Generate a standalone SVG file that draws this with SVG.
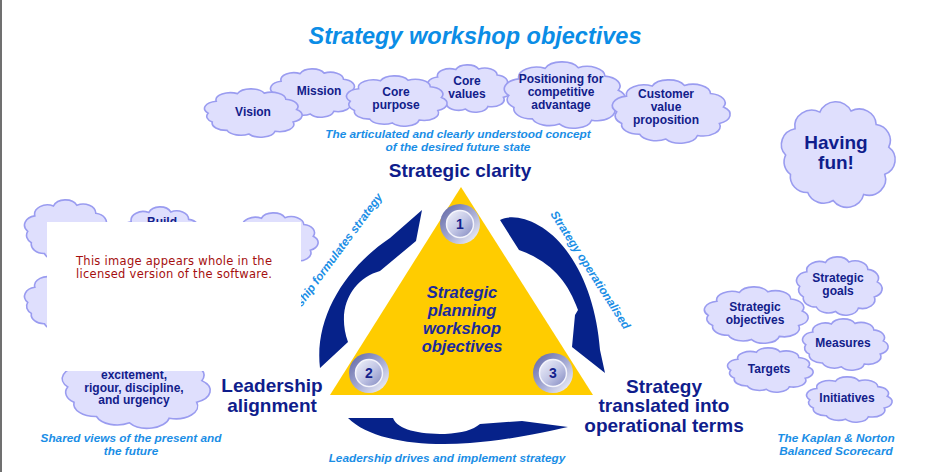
<svg xmlns="http://www.w3.org/2000/svg" width="928" height="472" viewBox="0 0 928 472">
<defs>
<style>
.cl{fill:#dfdffd;stroke:#9a9cf0;stroke-width:1.6}
.ct{font-family:"Liberation Sans",Arial,sans-serif;font-weight:bold;font-size:12px;fill:#12208a;text-anchor:middle}
.cap{font-family:"Liberation Sans",Arial,sans-serif;font-weight:bold;font-style:italic;font-size:11.8px;fill:#1a8ee6;text-anchor:middle}
.hd{font-family:"Liberation Sans",Arial,sans-serif;font-weight:bold;font-size:19px;fill:#0f1d8c;text-anchor:middle}
.tri{font-family:"Liberation Sans",Arial,sans-serif;font-weight:bold;font-style:italic;font-size:16.5px;fill:#1b2a9c;text-anchor:middle}
.arr{fill:#06228a}
.num{font-family:"Liberation Sans",Arial,sans-serif;font-weight:bold;font-size:14px;fill:#14228c;text-anchor:middle}
.lic{font-family:"DejaVu Sans",Verdana,sans-serif;font-size:11.5px;fill:#a50f0f;text-anchor:middle}
</style>
<path id="cloud" vector-effect="non-scaling-stroke" d="M7,50 A14,14 0 0 1 14.8,27 A14,14 0 0 1 35.3,12.4 A14,14 0 0 1 61.1,11.4 A14,14 0 0 1 81.9,23.2 A14,14 0 0 1 92.3,43 A14,14 0 0 1 89,66.9 A14,14 0 0 1 71.5,84.6 A14,14 0 0 1 46.3,89.8 A14,14 0 0 1 25.3,82.8 A14,14 0 0 1 11,66.9 A14,14 0 0 1 7,50 Z"/>
<linearGradient id="gRing" x1="0" y1="0" x2="1" y2="1">
<stop offset="0" stop-color="#5c62a2"/><stop offset="0.55" stop-color="#a9aed6"/><stop offset="1" stop-color="#ffffff"/>
</linearGradient>
<linearGradient id="gIn" x1="0" y1="0" x2="1" y2="1">
<stop offset="0" stop-color="#f2f3fb"/><stop offset="0.5" stop-color="#c4c8e6"/><stop offset="1" stop-color="#7f86bf"/>
</linearGradient>
</defs>
<rect width="928" height="472" fill="#fff"/>
<line x1="1" y1="0" x2="1" y2="472" stroke="#707070" stroke-width="2"/>

<text x="475" y="44" font-family="Liberation Sans, Arial, sans-serif" font-weight="bold" font-style="italic" font-size="23.5" fill="#0b8de6" text-anchor="middle">Strategy workshop objectives</text>

<!-- top clouds -->
<g id="mission"><use href="#cloud" class="cl" transform="translate(267.28,67.17) scale(0.9305,0.5217)"/><text class="ct" x="319" y="95">Mission</text></g>
<g id="vision"><use href="#cloud" class="cl" transform="translate(200.85,87.17) scale(1.0374,0.5217)"/><text class="ct" x="253" y="116">Vision</text></g>
<g id="core-values"><use href="#cloud" class="cl" transform="translate(424.45,63.21) scale(0.8877,0.5109)"/><text class="ct" x="467" y="85">Core</text><text class="ct" x="467" y="98">values</text></g>
<g id="core-purpose"><use href="#cloud" class="cl" transform="translate(342.72,74.1) scale(1.0695,0.5435)"/><text class="ct" x="396" y="96">Core</text><text class="ct" x="396" y="109">purpose</text></g>
<g id="positioning"><use href="#cloud" class="cl" transform="translate(499.87,59.49) scale(1.2834,0.7174)"/><text class="ct" x="561" y="83">Positioning for</text><text class="ct" x="561" y="96">competitive</text><text class="ct" x="561" y="109">advantage</text></g>
<g id="customer"><use href="#cloud" class="cl" transform="translate(608,77.6) scale(1.2513,0.6848)"/><text class="ct" x="666" y="98">Customer</text><text class="ct" x="666" y="111">value</text><text class="ct" x="666" y="124">proposition</text></g>
<g id="top-caption"><text class="cap" x="458" y="138">The articulated and clearly understood concept</text><text class="cap" x="458" y="151">of the desired future state</text></g>

<!-- having fun -->
<g id="having-fun"><use href="#cloud" class="cl" transform="translate(777.17,98.01) scale(1.2086,1.1413)"/><text class="hd" x="836" y="149">Having</text><text class="hd" x="836" y="169">fun!</text></g>

<!-- right clouds -->
<g id="strategic-goals"><use href="#cloud" class="cl" transform="translate(793.36,254.79) scale(0.9091,0.6304)"/><text class="ct" x="838" y="282">Strategic</text><text class="ct" x="838" y="295">goals</text></g>
<g id="strategic-objectives"><use href="#cloud" class="cl" transform="translate(700.59,284.87) scale(1.1016,0.6087)"/><text class="ct" x="755" y="311">Strategic</text><text class="ct" x="755" y="324">objectives</text></g>
<g id="measures"><use href="#cloud" class="cl" transform="translate(799.36,317.06) scale(0.9091,0.5543)"/><text class="ct" x="843" y="347">Measures</text></g>
<g id="targets"><use href="#cloud" class="cl" transform="translate(724.36,346.33) scale(0.9091,0.4783)"/><text class="ct" x="769" y="373">Targets</text></g>
<g id="initiatives"><use href="#cloud" class="cl" transform="translate(803.36,375.29) scale(0.9091,0.4891)"/><text class="ct" x="847" y="402">Initiatives</text></g>
<g id="right-caption"><text class="cap" x="836" y="442">The Kaplan &amp; Norton</text><text class="cap" x="836" y="455">Balanced Scorecard</text></g>

<!-- left clouds -->
<g id="left-a"><use href="#cloud" class="cl" transform="translate(21.36,197.64) scale(0.9091,0.6739)"/></g>
<g id="left-b"><use href="#cloud" class="cl" transform="translate(118.58,204.79) scale(0.8556,0.6304)"/><text class="ct" x="162" y="226">Build</text></g>
<g id="left-c"><use href="#cloud" class="cl" transform="translate(229.36,210.95) scale(0.9091,0.587)"/></g>
<g id="left-d"><use href="#cloud" class="cl" transform="translate(21.36,269.72) scale(0.9091,0.6522)"/></g>
<g id="excitement"><use href="#cloud" class="cl" transform="translate(56.71,341.84) scale(1.5722,0.9022)"/><text class="ct" x="134" y="379">excitement,</text><text class="ct" x="134" y="391.5">rigour, discipline,</text><text class="ct" x="134" y="404">and urgency</text></g>
<g id="left-caption"><text class="cap" x="131" y="442">Shared views of the present and</text><text class="cap" x="131" y="455">the future</text></g>

<!-- triangle -->
<g id="triangle">
<polygon points="461,187 330,395 593,395" fill="#ffcc00"/>
<text class="tri" x="462" y="298">Strategic</text>
<text class="tri" x="462" y="316">planning</text>
<text class="tri" x="462" y="334">workshop</text>
<text class="tri" x="462" y="352">objectives</text>
</g>
<g id="n1"><circle cx="460" cy="224" r="20" fill="url(#gRing)"/><circle cx="460" cy="224" r="13.5" fill="url(#gIn)" stroke="#f4f4fb" stroke-width="1.5"/><text class="num" x="460" y="229">1</text></g>
<g id="n2"><circle cx="369" cy="373" r="20" fill="url(#gRing)"/><circle cx="369" cy="373" r="13.5" fill="url(#gIn)" stroke="#f4f4fb" stroke-width="1.5"/><text class="num" x="369" y="378">2</text></g>
<g id="n3"><circle cx="553" cy="373" r="20" fill="url(#gRing)"/><circle cx="553" cy="373" r="13.5" fill="url(#gIn)" stroke="#f4f4fb" stroke-width="1.5"/><text class="num" x="553" y="378">3</text></g>

<g id="label-clarity"><text class="hd" x="460" y="177">Strategic clarity</text></g>
<g id="label-alignment"><text class="hd" x="272" y="392">Leadership</text><text class="hd" x="272" y="412">alignment</text></g>
<g id="label-translated"><text class="hd" x="664" y="393">Strategy</text><text class="hd" x="664" y="412">translated into</text><text class="hd" x="664" y="432">operational terms</text></g>

<!-- connectors -->
<g id="connectors">
<path class="arr" d="M422,210 L416,241 L380,271 C355,278 335,305 348,342 L320,368 C314,318 345,268 390,238 Z"/>
<path class="arr" d="M500,220 C515,212 545,222 566,250 C585,275 597,310 600,350 L605,373 L572,347 L575,315 L578,310 C568,282 552,262 519,250 Z"/>
<path class="arr" d="M348,418 L393,418 C398,430 418,434 445,434 C462,433 473,430 480,424 L522,421 L568,427 C545,432 510,440 470,443 C420,447 370,440 348,418 Z"/>
<text class="cap" style="text-anchor:end" transform="translate(383,197) rotate(-53.5)">Leadership formulates strategy</text>
<text class="cap" style="text-anchor:start" transform="translate(550,214) rotate(57.4)">Strategy operationalised</text>
<text class="cap" x="447" y="462">Leadership drives and implement strategy</text>
</g>

<!-- licence overlay -->
<g id="overlay">
<rect x="47" y="222" width="254" height="149" fill="#ffffff"/>
<text class="lic" x="174" y="265" textLength="196">This image appears whole in the</text>
<text class="lic" x="174" y="278" textLength="196">licensed version of the software.</text>
</g>
</svg>
